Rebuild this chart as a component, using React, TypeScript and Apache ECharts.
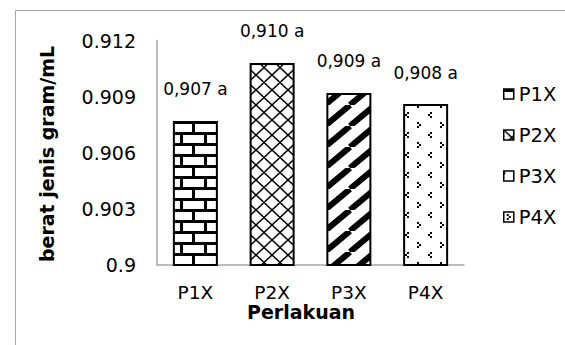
import React, { useEffect, useRef } from "react";
import * as echarts from "echarts";

// Perlakuan (treatments) and their measured specific gravity
const categories = ["P1X", "P2X", "P3X", "P4X"];
const values = [0.9077, 0.9108, 0.9092, 0.9086];
const letters = ["a", "a", "a", "a"];
const yMin = 0.9;
const yMax = 0.912;
const yStep = 0.003;
const yAxisTitle = "berat jenis gram/mL";
const xAxisTitle = "Perlakuan";

const FONT = "DejaVu Sans";

type Fill = "brick" | "cross" | "stripe" | "dots";
const fills: Fill[] = ["brick", "cross", "stripe", "dots"];

// Builds a small monochrome tile used as a repeating fill pattern.
function makePattern(kind: Fill) {
  let w = 24;
  let h = 22;
  if (kind === "cross") {
    w = 16;
    h = 15;
  } else if (kind === "stripe") {
    w = 25;
    h = 21;
  } else if (kind === "dots") {
    w = 23;
    h = 20;
  }
  const c = document.createElement("canvas");
  c.width = w;
  c.height = h;
  const g = c.getContext("2d")!;
  g.fillStyle = "#fff";
  g.fillRect(0, 0, w, h);
  g.fillStyle = "#000";
  g.strokeStyle = "#000";
  if (kind === "brick") {
    g.fillRect(0, 0, w, 3);
    g.fillRect(0, 11, w, 3);
    g.fillRect(12, 0, 3, 11);
    g.fillRect(0, 11, 3, 11);
  } else if (kind === "cross") {
    g.lineWidth = 1.5;
    g.beginPath();
    for (const dx of [-w, 0, w]) {
      g.moveTo(dx, 0);
      g.lineTo(dx + w, h);
      g.moveTo(dx, h);
      g.lineTo(dx + w, 0);
    }
    g.stroke();
  } else if (kind === "stripe") {
    g.lineWidth = 6;
    g.beginPath();
    for (const dx of [-w, 0, w]) {
      g.moveTo(dx, h);
      g.lineTo(dx + w, 0);
    }
    g.stroke();
  } else {
    const right = (x: number, y: number) => {
      g.fillRect(x, y, 2, 2);
      g.fillRect(x + 2, y + 2, 2, 2);
      g.fillRect(x, y + 4, 2, 2);
    };
    const left = (x: number, y: number) => {
      g.fillRect(x + 2, y, 2, 2);
      g.fillRect(x, y + 2, 2, 2);
      g.fillRect(x + 2, y + 4, 2, 2);
    };
    right(3, 2);
    left(14, 12);
  }
  return {
    image: c.toDataURL(),
    repeat: "repeat",
    imageWidth: w,
    imageHeight: h,
  };
}

const labelText = (v: number, i: number) =>
  (Math.floor(v * 1000 + 1e-9) / 1000).toFixed(3).replace(".", ",") + " " + letters[i];

export default function App() {
  const ref = useRef<HTMLDivElement>(null);

  useEffect(() => {
    if (!ref.current) return;
    const chart = echarts.init(ref.current, null, { renderer: "svg" });

    const series = categories.map((name, i) => ({
      name,
      type: "bar",
      barWidth: 45,
      barGap: "-100%",
      data: values.map((v, j) => (j === i ? v : "-")),
      itemStyle: {
        color: makePattern(fills[i]),
        borderColor: "#000",
        borderWidth: 2,
      },
      label: {
        show: true,
        position: "top",
        distance: 23,
        formatter: () => labelText(values[i], i),
        fontFamily: FONT,
        fontSize: 17,
        color: "#000",
      },
    }));

    chart.setOption({
      animation: false,
      backgroundColor: "#fff",
      grid: { left: 157, right: 101, top: 40.5, bottom: 80 },
      legend: {
        orient: "vertical",
        left: 503,
        top: 84,
        padding: 0,
        icon: "rect",
        itemWidth: 10,
        itemHeight: 10,
        itemGap: 21,
        data: categories,
        textStyle: { fontFamily: FONT, fontSize: 19.5, color: "#000" },
        itemStyle: { borderColor: "#000", borderWidth: 1.5 },
      },
      xAxis: {
        type: "category",
        data: categories,
        axisLine: { lineStyle: { color: "#a6a6a6", width: 1.5 } },
        axisTick: { show: false },
        axisLabel: {
          fontFamily: FONT,
          fontSize: 18.5,
          lineHeight: 18,
          color: "#000",
          margin: 18,
        },
      },
      yAxis: {
        type: "value",
        min: yMin,
        max: yMax,
        interval: yStep,
        axisLine: { show: true, lineStyle: { color: "#a6a6a6", width: 1.5 } },
        axisTick: { show: false },
        splitLine: { show: false },
        axisLabel: { fontFamily: FONT, fontSize: 19, color: "#000", margin: 21 },
      },
      graphic: [
        {
          type: "rect",
          shape: { x: 15.5, y: 10.5, width: 700, height: 500 },
          style: { fill: "none", stroke: "#a6a6a6", lineWidth: 1 },
          silent: true,
          z: -10,
        },
        {
          type: "text",
          x: 47,
          y: 154,
          rotation: Math.PI / 2,
          style: {
            text: yAxisTitle,
            fontFamily: FONT,
            fontSize: 19,
            fontWeight: "bold",
            fill: "#000",
            align: "center",
            verticalAlign: "middle",
            textAlign: "center",
            textVerticalAlign: "middle",
          },
        },
        {
          type: "text",
          x: 301,
          y: 312,
          style: {
            text: xAxisTitle,
            fontFamily: FONT,
            fontSize: 19,
            lineHeight: 17,
            fontWeight: "bold",
            fill: "#000",
            align: "center",
            verticalAlign: "middle",
            textAlign: "center",
            textVerticalAlign: "middle",
          },
        },
      ],
      series,
    });

    return () => chart.dispose();
  }, []);

  return (
    <div
      ref={ref}
      style={{ position: "absolute", left: 0, top: 0, width: 565, height: 345 }}
    />
  );
}
